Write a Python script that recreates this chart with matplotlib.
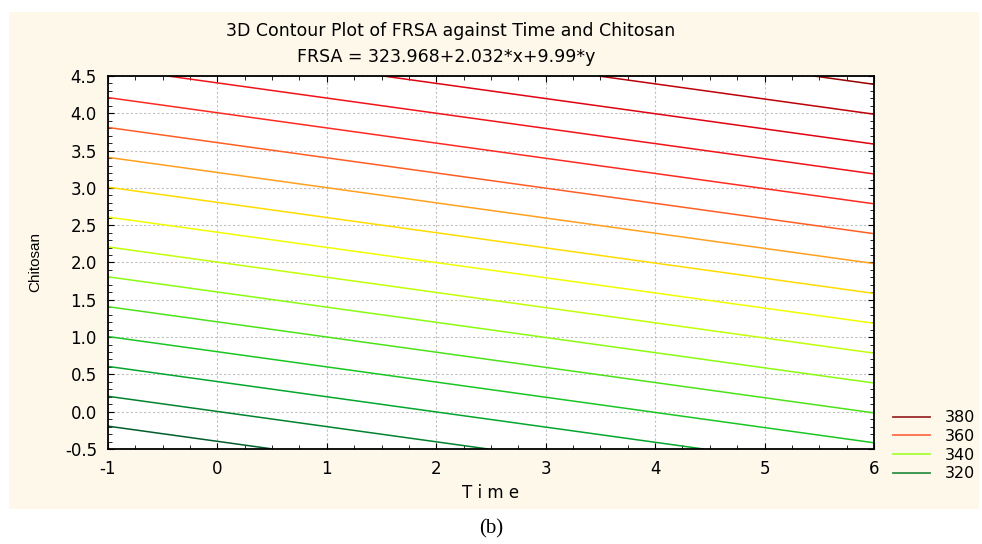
import numpy as np
import matplotlib
matplotlib.use("Agg")
import matplotlib.pyplot as plt
from matplotlib.colors import LinearSegmentedColormap
from matplotlib.lines import Line2D
from matplotlib.patches import Rectangle
from matplotlib.ticker import MultipleLocator, FormatStrFormatter

# fitted surface shown in the chart title
B0 = 323.968
B_TIME = 2.032
B_CHIT = 9.99

time_range = [-1, 6]
chitosan_range = [-0.5, 4.5]
levels = list(range(320, 381, 4))

legend_values = [380, 360, 340, 320]
legend_colors = ["#9b2a2a", "#ff6e4a", "#a6ff3c", "#2f8f45"]

title_1 = "3D Contour Plot of FRSA against Time and Chitosan"
title_2 = "FRSA = 323.968+2.032*x+9.99*y"

cmap = LinearSegmentedColormap.from_list(
    "frsa", [(0.0, "#005e2c"), (0.12, "#00a030"), (0.22, "#20d020"),
             (0.34, "#90ff10"), (0.45, "#e8ff00"), (0.5, "#ffff00"),
             (0.56, "#ffc000"), (0.62, "#ff9030"), (0.68, "#ff5020"),
             (0.75, "#ff2020"), (0.87, "#e00010"), (1.0, "#960000")])

plt.rcParams["font.family"] = ["DejaVu Sans"]
plt.rcParams["axes.unicode_minus"] = False

fig = plt.figure(figsize=(9.82, 5.44), dpi=100)
fig.patch.set_facecolor("white")
bg = Rectangle((9 / 982, 1 - 509 / 544), 970 / 982, 497 / 544,
               transform=fig.transFigure, facecolor="#fdf8ea",
               edgecolor="none", zorder=-10)
fig.add_artist(bg)

ax = fig.add_axes([108 / 982, 1 - 449 / 544, 766 / 982, 373 / 544])
ax.set_facecolor("white")

x = np.linspace(time_range[0], time_range[1], 200)
y = np.linspace(chitosan_range[0], chitosan_range[1], 200)
X, Y = np.meshgrid(x, y)
Z = B0 + B_TIME * X + B_CHIT * Y
ax.contour(X, Y, Z, levels=levels, cmap=cmap, vmin=levels[0], vmax=levels[-1],
           linewidths=1.1)

ax.set_xlim(time_range)
ax.set_ylim(chitosan_range)
ax.xaxis.set_major_locator(MultipleLocator(1))
ax.xaxis.set_minor_locator(MultipleLocator(0.25))
ax.yaxis.set_major_locator(MultipleLocator(0.5))
ax.yaxis.set_minor_locator(MultipleLocator(0.1))
ax.yaxis.set_major_formatter(FormatStrFormatter("%.1f"))
ax.tick_params(which="both", direction="in", top=True, right=True,
               color="black", labelsize=12)
ax.tick_params(which="major", length=4, pad=8)
ax.tick_params(which="minor", length=3)
ax.grid(True, which="major", color="#c0c0c0", linestyle=(0, (2, 2)), linewidth=0.8)
for s in ax.spines.values():
    s.set_linewidth(1.3)

ax.set_xlabel("T i m e", fontsize=12, labelpad=4)
ax.set_ylabel("Chitosan", fontsize=11, labelpad=16,
              family=["Liberation Sans", "DejaVu Sans"])

fig.text(451 / 982, 1 - 31 / 544, title_1, ha="center", va="center", fontsize=12.5)
fig.text(446 / 982, 1 - 57 / 544, title_2, ha="center", va="center", fontsize=12.5)

handles = [Line2D([], [], color=c, lw=1.3) for c in legend_colors]
fig.legend(handles, [str(v) for v in legend_values], loc="upper left",
           bbox_to_anchor=(879 / 982, 1 - 396 / 544), frameon=False,
           fontsize=11.5, handlelength=2.3, handletextpad=0.9,
           labelspacing=0.23)

fig.text(491 / 982, 1 - 529 / 544, "(b)", ha="center", va="center",
         fontsize=15, family=["Liberation Serif", "DejaVu Serif"])

fig.savefig("out.png", dpi=100)
